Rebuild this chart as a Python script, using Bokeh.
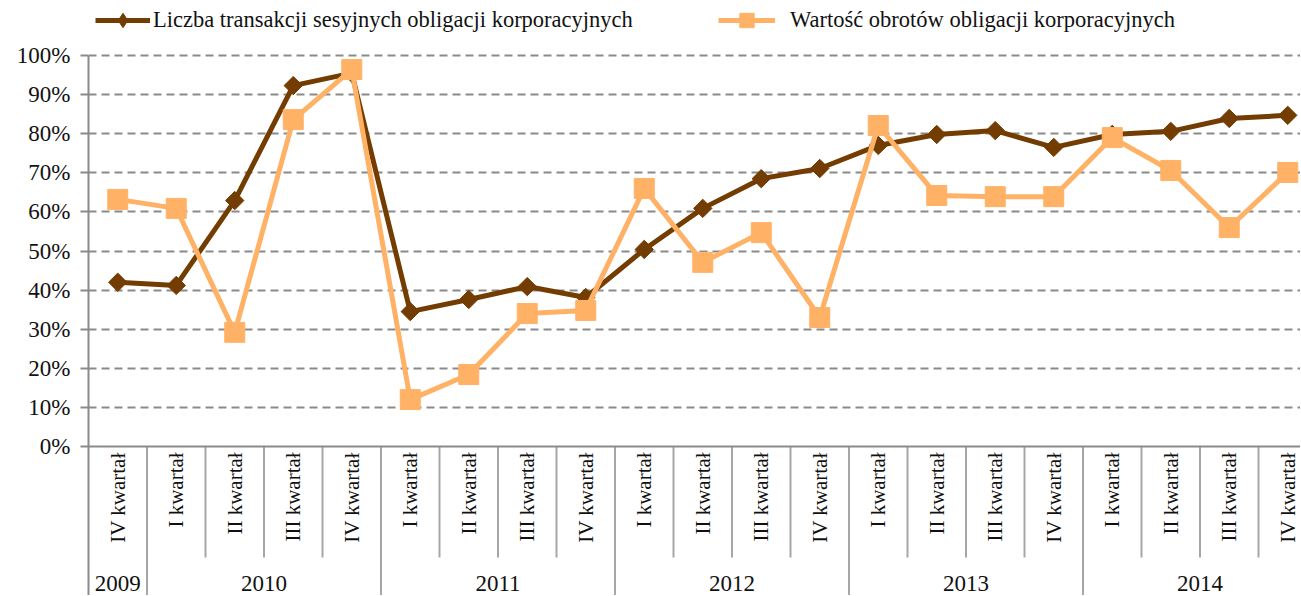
from math import pi, nan
from bokeh.plotting import figure
from bokeh.models import Range1d, FixedTicker, PrintfTickFormatter, Span, Legend, LegendItem
from bokeh.core.properties import value
from bokeh.embed import file_html
from bokeh.resources import INLINE

# ---- data ----
quarters = ["IV", "I", "II", "III", "IV", "I", "II", "III", "IV", "I", "II", "III", "IV",
            "I", "II", "III", "IV", "I", "II", "III", "IV"]
years = ["2009", "2010", "2010", "2010", "2010", "2011", "2011", "2011", "2011",
         "2012", "2012", "2012", "2012", "2013", "2013", "2013", "2013",
         "2014", "2014", "2014", "2014"]
liczba = [42.0, 41.2, 62.9, 92.3, 95.5, 34.5, 37.6, 40.9, 38.1, 50.4, 60.9, 68.5, 71.1,
          77.0, 79.8, 80.8, 76.5, 79.8, 80.6, 83.9, 84.7]
wartosc = [63.2, 60.9, 29.2, 83.6, 96.4, 12.0, 18.4, 34.0, 34.8, 66.0, 47.1, 54.7, 33.0,
           82.1, 64.2, 63.9, 63.9, 79.0, 70.6, 56.0, 70.1]
y_ticks = list(range(0, 101, 10))
series_names = ["Liczba transakcji sesyjnych obligacji korporacyjnych",
                "Wartość obrotów obligacji korporacyjnych"]

BROWN = "#733C00"
ORANGE = "#FFB266"
GRID = "#8A8A8A"
SEP = "#A6A6A6"
FONT = "Liberation Serif"
TXT = "#111111"

W, H = 1300, 595
LEFT = 88
ppu_y = 3.91
zero_px = 446
y_top = 100 + 55 / ppu_y
y_bot = -(H - zero_px) / ppu_y
x_end = -0.5 + (W - LEFT) / 58.5

p = figure(width=W, height=H, x_range=Range1d(-0.5, x_end), y_range=Range1d(y_bot, y_top),
           x_axis_location=None, output_backend="svg", toolbar_location=None,
           min_border_left=LEFT, min_border_right=0, min_border_top=0, min_border_bottom=0)
p.outline_line_color = None
p.xgrid.visible = False

# y axis
ax = p.yaxis[0]
ax.ticker = FixedTicker(ticks=y_ticks)
ax.formatter = PrintfTickFormatter(format="%d%%")
ax.bounds = (y_bot, 100)
ax.axis_line_color = GRID
ax.axis_line_width = 2
ax.major_tick_line_color = GRID
ax.major_tick_line_width = 2
ax.major_tick_out = 8
ax.major_tick_in = 0
ax.minor_tick_line_color = None
ax.major_label_standoff = 10
ax.major_label_text_font = FONT
ax.major_label_text_font_size = "23px"
ax.major_label_text_color = TXT

p.ygrid.ticker = FixedTicker(ticks=y_ticks[1:])
p.ygrid.grid_line_color = GRID
p.ygrid.grid_line_width = 2
p.ygrid.grid_line_dash = "8 5"

# category separators
n = len(quarters)
xs = list(range(n))
bx, by = [], []
for i in range(n - 1):
    bx.append(i + 0.5)
    by.append(y_bot if years[i] != years[i + 1] else -(557 - zero_px) / ppu_y)
p.segment(x0=bx, y0=[0] * len(bx), x1=bx, y1=by, line_color=SEP, line_width=2)
p.add_layout(Span(location=0, dimension="width", line_color=GRID, line_width=2))

# quarter labels
p.text(x=xs, y=[-1.5] * n, text=[q + " kwartał" for q in quarters], angle=pi / 2,
       text_align="right", text_baseline="middle", text_font=value(FONT),
       text_font_size="21px", text_color=TXT)

# year labels
uniq = []
for i, yv in enumerate(years):
    if not uniq or uniq[-1][0] != yv:
        uniq.append([yv, i, i])
    else:
        uniq[-1][2] = i
p.text(x=[(a + b) / 2 for _, a, b in uniq], y=[-(583 - zero_px) / ppu_y] * len(uniq),
       text=[u[0] for u in uniq], text_align="center", text_baseline="middle",
       text_font=value(FONT), text_font_size="23px", text_color=TXT)

# series
l1 = p.line(xs, liczba, line_color=BROWN, line_width=5)
m1 = p.scatter(xs, liczba, marker="square", angle=pi / 4, size=13, color=BROWN)
l2 = p.line(xs, wartosc, line_color=ORANGE, line_width=5)
m2 = p.scatter(xs, wartosc, marker="square", size=20, color=ORANGE)
# marker shown only in the legend (diamond shape as in the original legend)
lm1 = p.scatter([nan], [nan], marker="diamond", color=BROWN)

common = dict(orientation="horizontal", glyph_height=36, padding=0, margin=0,
              border_line_color=None, background_fill_alpha=0,
              label_text_font=FONT, label_text_font_size="22.5px", label_text_color=TXT)
leg1 = Legend(items=[LegendItem(label=series_names[0], renderers=[l1, lm1])],
              location=(95 - LEFT, H - 38), glyph_width=55, label_standoff=3, **common)
leg2 = Legend(items=[LegendItem(label=series_names[1], renderers=[l2, m2])],
              location=(718 - LEFT, H - 38), glyph_width=57, label_standoff=15, **common)
p.add_layout(leg1)
p.add_layout(leg2)

open("out.html", "w").write(file_html(p, INLINE))
